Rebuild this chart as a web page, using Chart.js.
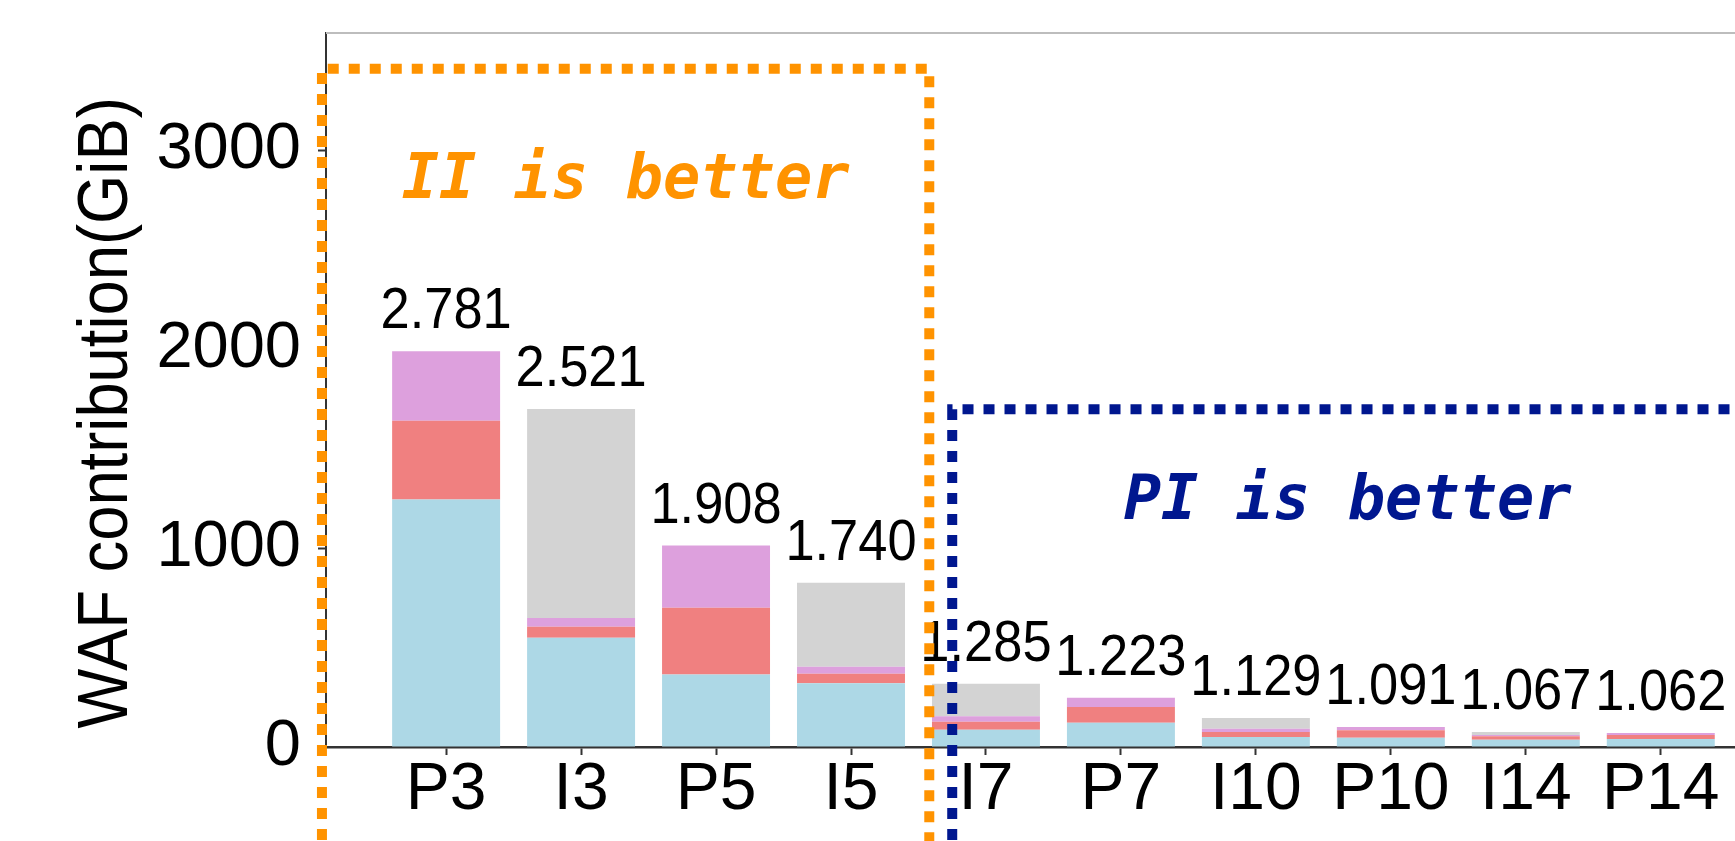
<!DOCTYPE html>
<html>
<head>
<meta charset="utf-8">
<script src="https://cdn.jsdelivr.net/npm/chart.js@4.4.1/dist/chart.umd.min.js"></script>
<style>
  html, body { margin: 0; padding: 0; background: #fff; }
  #wrap { width: 1735px; height: 841px; position: relative; }
</style>
</head>
<body>
<div id="wrap"><canvas id="waf"></canvas></div>
<script>
// workloads on the x axis
const categories = ['P3', 'I3', 'P5', 'I5', 'I7', 'P7', 'I10', 'P10', 'I14', 'P14'];
// stacked contributions in GiB, bottom to top
const blueSeg = [1245, 549, 365, 320, 87, 122, 50, 47, 37, 40];
const redSeg  = [395, 56, 335, 48, 40, 79, 25, 37, 17, 20];
const plumSeg = [350, 43, 313, 36, 28, 47, 17, 16, 6, 10];
const graySeg = [0, 1052, 0, 422, 163, 0, 54, 0, 15, 0];
// WAF printed above each bar
const wafValues = [2.781, 2.521, 1.908, 1.740, 1.285, 1.223, 1.129, 1.091, 1.067, 1.062];
const yTicks = [0, 1000, 2000, 3000];

const totals = categories.map((_, i) => blueSeg[i] + redSeg[i] + plumSeg[i] + graySeg[i]);
const pts = arr => arr.map((v, i) => ({ x: i, y: v }));
const FONT = '"Liberation Sans", Arial, sans-serif';

// the original text is a little narrow, so squeeze it horizontally
function narrowText(ctx, txt, x, y, sx) {
  ctx.save();
  ctx.translate(x, y);
  ctx.scale(sx, 1);
  ctx.fillText(txt, 0, 0);
  ctx.restore();
}

// numbers above the stacks
const wafLabelPlugin = {
  id: 'wafLabels',
  afterDatasetsDraw(chart) {
    const { ctx, scales: { x, y } } = chart;
    ctx.save();
    ctx.font = '57px ' + FONT;
    ctx.fillStyle = '#000';
    ctx.textAlign = 'center';
    ctx.textBaseline = 'alphabetic';
    wafValues.forEach((v, i) => {
      narrowText(ctx, v.toFixed(3), x.getPixelForValue(i), y.getPixelForValue(totals[i]) - 23, 0.92);
    });
    ctx.restore();
  }
};

// top frame, y title, and the two dotted regions
const regionPlugin = {
  id: 'regions',
  beforeDatasetsDraw(chart) {
    const { ctx, chartArea, scales: { y } } = chart;
    ctx.save();
    ctx.strokeStyle = '#bdbdbd';
    ctx.lineWidth = 2;
    ctx.beginPath();
    ctx.moveTo(chartArea.left, chartArea.top);
    ctx.lineTo(chart.width, chartArea.top);
    ctx.stroke();

    // axis title sits a bit below the middle of the axis
    ctx.translate(108, y.getPixelForValue(1680));
    ctx.rotate(-Math.PI / 2);
    ctx.font = '70px ' + FONT;
    ctx.fillStyle = '#000';
    ctx.textAlign = 'center';
    ctx.textBaseline = 'middle';
    narrowText(ctx, 'WAF contribution(GiB)', 0, 0, 0.905);
    ctx.restore();
  },
  afterDraw(chart) {
    const { ctx, scales: { x, y }, width, height } = chart;
    ctx.save();
    ctx.lineWidth = 10;
    ctx.setLineDash([11, 10]);

    // II is better
    ctx.strokeStyle = '#ff9300';
    const ox0 = x.getPixelForValue(-0.92), ox1 = x.getPixelForValue(3.58), oy = y.getPixelForValue(3410);
    ctx.beginPath();
    ctx.moveTo(ox0, height + 20);
    ctx.lineTo(ox0, oy);
    ctx.lineTo(ox1, oy);
    ctx.lineTo(ox1, height + 20);
    ctx.stroke();

    // PI is better
    ctx.strokeStyle = '#00178f';
    const bx0 = x.getPixelForValue(3.75), by = y.getPixelForValue(1698);
    ctx.beginPath();
    ctx.moveTo(bx0, height + 20);
    ctx.lineTo(bx0, by);
    ctx.lineTo(width + 20, by);
    ctx.stroke();

    ctx.setLineDash([]);
    ctx.font = 'italic bold 62px "DejaVu Sans Mono", monospace';
    ctx.textAlign = 'center';
    ctx.textBaseline = 'middle';
    ctx.fillStyle = '#ff9300';
    ctx.fillText('II is better', x.getPixelForValue(1.33), y.getPixelForValue(2839));
    ctx.fillStyle = '#00178f';
    ctx.fillText('PI is better', x.getPixelForValue(6.68), y.getPixelForValue(1226));
    ctx.restore();
  }
};

const barSet = (label, arr, color) => ({
  label, data: pts(arr), backgroundColor: color, borderWidth: 0,
  categoryPercentage: 1, barPercentage: 0.8
});

new Chart(document.getElementById('waf'), {
  type: 'bar',
  data: {
    datasets: [
      barSet('blue', blueSeg, '#add8e6'),
      barSet('red', redSeg, '#f08080'),
      barSet('plum', plumSeg, '#dda0dd'),
      barSet('gray', graySeg, '#d3d3d3')
    ]
  },
  options: {
    responsive: true,
    maintainAspectRatio: false,
    animation: false,
    layout: { padding: { top: 33, left: 0, right: 0, bottom: 0 } },
    plugins: { legend: { display: false }, tooltip: { enabled: false } },
    scales: {
      x: {
        type: 'linear',
        stacked: true,
        offset: false,
        min: -0.89,
        max: 9.55,
        afterBuildTicks: axis => { axis.ticks = categories.map((_, i) => ({ value: i })); },
        afterFit: s => { s.height = 94; s.paddingLeft = 0; s.paddingRight = 0; },
        ticks: {
          autoSkip: false,
          maxRotation: 0,
          padding: -4,
          color: '#000',
          font: { family: FONT, size: 66 },
          callback: v => categories[v] ?? ''
        },
        grid: { offset: false, drawOnChartArea: false, drawTicks: true, tickLength: 8, tickWidth: 2, color: '#333' },
        border: { display: true, color: '#333', width: 2.5 }
      },
      y: {
        stacked: true,
        min: 0,
        max: 3590,
        afterBuildTicks: axis => { axis.ticks = yTicks.map(v => ({ value: v })); },
        afterFit: s => { s.width = 326; s.paddingTop = 0; s.paddingBottom = 0; },
        ticks: {
          padding: 17,
          color: '#000',
          font: { family: FONT, size: 65 },
          callback: v => String(v)
        },
        grid: { drawOnChartArea: false, drawTicks: true, tickLength: 8, tickWidth: 2, color: '#333' },
        border: { display: true, color: '#333', width: 2 }
      }
    }
  },
  plugins: [wafLabelPlugin, regionPlugin]
});
</script>
</body>
</html>
